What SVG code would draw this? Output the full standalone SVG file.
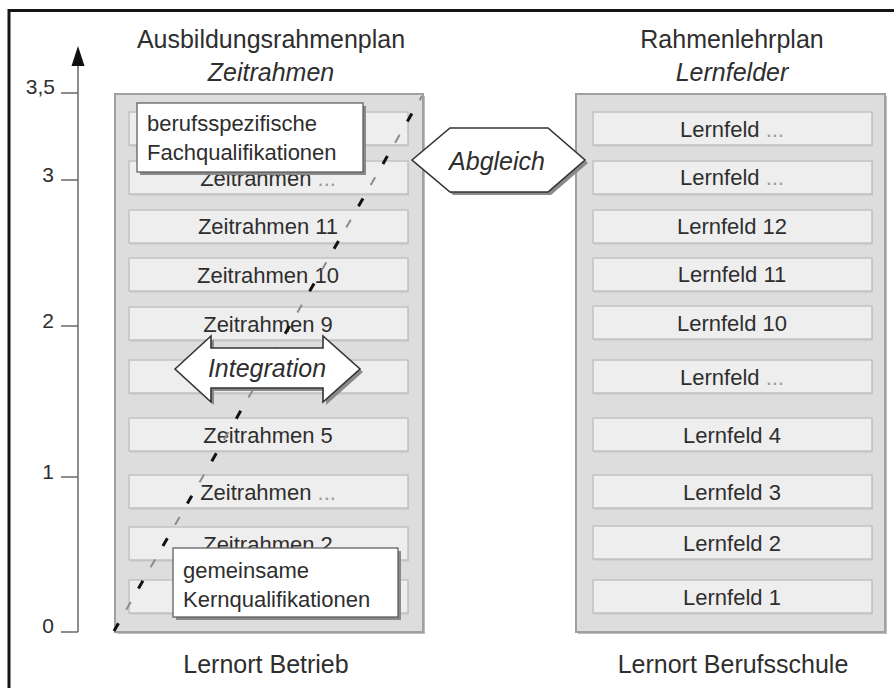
<svg xmlns="http://www.w3.org/2000/svg" width="894" height="688" viewBox="0 0 894 688">
  <defs>
    <style>
      text { font-family: "Liberation Sans", Arial, sans-serif; fill: #2e2e2e; }
      .title { font-size: 25px; text-anchor: middle; }
      .sub { font-size: 25px; font-style: italic; text-anchor: middle; }
      .row { fill: #eeeeee; stroke: #c2c2c2; stroke-width: 1.5; }
      .rowshadow { fill: #c6c6c6; }
      .rowtxt { font-size: 22px; text-anchor: middle; }
      .dots { fill: #9a9a9a; }
      .panel { fill: #dddddd; stroke: #a0a0a0; stroke-width: 2; }
      .panelshadow { fill: #bdbdbd; }
      .tick { stroke: #707070; stroke-width: 1.6; fill: none; }
      .axislbl { font-size: 21px; text-anchor: end; }
      .callout { fill: #ffffff; stroke: #555; stroke-width: 1.2; }
      .calloutshadow { fill: #8a8a8a; }
      .callouttxt { font-size: 22px; }
      .shape { fill: #ffffff; stroke: #333; stroke-width: 1.6; stroke-linejoin: miter; }
      .shapeshadow { fill: #8a8a8a; }
      .shapetxt { font-size: 25px; font-style: italic; text-anchor: middle; }
    </style>
  </defs>

  <rect width="894" height="688" fill="#ffffff"/>
  <!-- frame -->
  <rect x="9" y="10.5" width="900" height="700" fill="none" stroke="#151515" stroke-width="3"/>

  <!-- time axis -->
  <g id="axis">
    <line class="tick" x1="78" y1="64" x2="78" y2="632"/>
    <polygon points="78,46 71.5,66 84.5,66" fill="#111"/>
    <line class="tick" x1="61" y1="93" x2="78" y2="93"/>
    <line class="tick" x1="61" y1="180" x2="78" y2="180"/>
    <line class="tick" x1="61" y1="326" x2="78" y2="326"/>
    <line class="tick" x1="61" y1="477" x2="78" y2="477"/>
    <line class="tick" x1="61" y1="632" x2="78" y2="632"/>
    <text class="axislbl" x="55" y="94">3,5</text>
    <text class="axislbl" x="54" y="182">3</text>
    <text class="axislbl" x="54" y="328">2</text>
    <text class="axislbl" x="54" y="479">1</text>
    <text class="axislbl" x="54" y="633">0</text>
  </g>

  <!-- company side: Ausbildungsrahmenplan -->
  <g id="ausbildungsrahmenplan">
    <text class="title" x="271" y="48">Ausbildungsrahmenplan</text>
    <text class="sub" x="271" y="81">Zeitrahmen</text>
    <rect class="panelshadow" x="117" y="96" width="308" height="538"/>
    <rect class="panel" x="115" y="94" width="308" height="538"/>
    <g id="zr-rows">
      <rect class="rowshadow" x="130" y="113.5" width="279" height="33"/>
      <rect class="row" x="129" y="112" width="279" height="33"/>
      <rect class="rowshadow" x="130" y="162.5" width="279" height="33"/>
      <rect class="row" x="129" y="161" width="279" height="33"/>
      <rect class="rowshadow" x="130" y="211.5" width="279" height="33"/>
      <rect class="row" x="129" y="210" width="279" height="33"/>
      <rect class="rowshadow" x="130" y="259.5" width="279" height="33"/>
      <rect class="row" x="129" y="258" width="279" height="33"/>
      <rect class="rowshadow" x="130" y="308.5" width="279" height="33"/>
      <rect class="row" x="129" y="307" width="279" height="33"/>
      <rect class="rowshadow" x="130" y="361.5" width="279" height="33"/>
      <rect class="row" x="129" y="360" width="279" height="33"/>
      <rect class="rowshadow" x="130" y="419.5" width="279" height="33"/>
      <rect class="row" x="129" y="418" width="279" height="33"/>
      <rect class="rowshadow" x="130" y="476.5" width="279" height="33"/>
      <rect class="row" x="129" y="475" width="279" height="33"/>
      <rect class="rowshadow" x="130" y="528.5" width="279" height="33"/>
      <rect class="row" x="129" y="527" width="279" height="33"/>
      <rect class="rowshadow" x="130" y="581.5" width="279" height="33"/>
      <rect class="row" x="129" y="580" width="279" height="33"/>
      <text class="rowtxt" x="268" y="186">Zeitrahmen <tspan class="dots">...</tspan></text>
      <text class="rowtxt" x="268" y="234">Zeitrahmen 11</text>
      <text class="rowtxt" x="268" y="283">Zeitrahmen 10</text>
      <text class="rowtxt" x="268" y="332">Zeitrahmen 9</text>
      <text class="rowtxt" x="268" y="443">Zeitrahmen 5</text>
      <text class="rowtxt" x="268" y="500">Zeitrahmen <tspan class="dots">...</tspan></text>
      <text class="rowtxt" x="268" y="552">Zeitrahmen 2</text>
    </g>
    <text class="title" x="266" y="673">Lernort Betrieb</text>
  </g>

  <!-- school side: Rahmenlehrplan -->
  <g id="rahmenlehrplan">
    <text class="title" x="732" y="48">Rahmenlehrplan</text>
    <text class="sub" x="732" y="81">Lernfelder</text>
    <rect class="panelshadow" x="578" y="96" width="309" height="538"/>
    <rect class="panel" x="576" y="94" width="309" height="538"/>
    <g id="lf-rows">
      <rect class="rowshadow" x="594" y="113.5" width="279" height="33"/>
      <rect class="row" x="593" y="112" width="279" height="33"/>
      <rect class="rowshadow" x="594" y="162.5" width="279" height="33"/>
      <rect class="row" x="593" y="161" width="279" height="33"/>
      <rect class="rowshadow" x="594" y="211.5" width="279" height="33"/>
      <rect class="row" x="593" y="210" width="279" height="33"/>
      <rect class="rowshadow" x="594" y="259.5" width="279" height="33"/>
      <rect class="row" x="593" y="258" width="279" height="33"/>
      <rect class="rowshadow" x="594" y="307.5" width="279" height="33"/>
      <rect class="row" x="593" y="306" width="279" height="33"/>
      <rect class="rowshadow" x="594" y="361.5" width="279" height="33"/>
      <rect class="row" x="593" y="360" width="279" height="33"/>
      <rect class="rowshadow" x="594" y="419.5" width="279" height="33"/>
      <rect class="row" x="593" y="418" width="279" height="33"/>
      <rect class="rowshadow" x="594" y="476.5" width="279" height="33"/>
      <rect class="row" x="593" y="475" width="279" height="33"/>
      <rect class="rowshadow" x="594" y="527.5" width="279" height="33"/>
      <rect class="row" x="593" y="526" width="279" height="33"/>
      <rect class="rowshadow" x="594" y="581.5" width="279" height="33"/>
      <rect class="row" x="593" y="580" width="279" height="33"/>
      <text class="rowtxt" x="732" y="137">Lernfeld <tspan class="dots">...</tspan></text>
      <text class="rowtxt" x="732" y="185">Lernfeld <tspan class="dots">...</tspan></text>
      <text class="rowtxt" x="732" y="234">Lernfeld 12</text>
      <text class="rowtxt" x="732" y="282">Lernfeld 11</text>
      <text class="rowtxt" x="732" y="331">Lernfeld 10</text>
      <text class="rowtxt" x="732" y="385">Lernfeld <tspan class="dots">...</tspan></text>
      <text class="rowtxt" x="732" y="443">Lernfeld 4</text>
      <text class="rowtxt" x="732" y="500">Lernfeld 3</text>
      <text class="rowtxt" x="732" y="551">Lernfeld 2</text>
      <text class="rowtxt" x="732" y="605">Lernfeld 1</text>
    </g>
    <text class="title" x="733" y="673">Lernort Berufsschule</text>
  </g>

  <!-- connectors: qualification diagonal, integration and alignment -->
  <g id="connectors">
    <line x1="114" y1="631" x2="422" y2="96" stroke="#111" stroke-width="3" stroke-dasharray="9 40"/>
    <line x1="114" y1="631" x2="422" y2="96" stroke="#8c8c8c" stroke-width="2" stroke-dasharray="9 40" stroke-dashoffset="-24.5"/>
  </g>

  <g id="fachqualifikationen">
    <rect class="calloutshadow" x="140" y="106" width="226" height="69"/>
    <rect class="callout" x="137" y="103" width="226" height="69"/>
    <text class="callouttxt" x="147" y="131">berufsspezifische</text>
    <text class="callouttxt" x="147" y="160">Fachqualifikationen</text>
  </g>

  <g id="kernqualifikationen">
    <rect class="calloutshadow" x="176" y="551" width="225" height="69"/>
    <rect class="callout" x="173" y="548" width="225" height="69"/>
    <text class="callouttxt" x="183" y="578">gemeinsame</text>
    <text class="callouttxt" x="183" y="607">Kernqualifikationen</text>
  </g>

  <g id="integration">
    <polygon class="shapeshadow" transform="translate(3,3)" points="175,369 211,336 211,348 323,348 323,336 360,369 323,402 323,388 211,388 211,402"/>
    <polygon class="shape" points="175,369 211,336 211,348 323,348 323,336 360,369 323,402 323,388 211,388 211,402"/>
    <text class="shapetxt" x="267" y="377">Integration</text>
  </g>

  <g id="abgleich">
    <polygon class="shapeshadow" transform="translate(3,3)" points="412,160 450,128 548,128 585,160 548,192 450,192"/>
    <polygon class="shape" points="412,160 450,128 548,128 585,160 548,192 450,192"/>
    <text class="shapetxt" x="497" y="170">Abgleich</text>
  </g>
</svg>
